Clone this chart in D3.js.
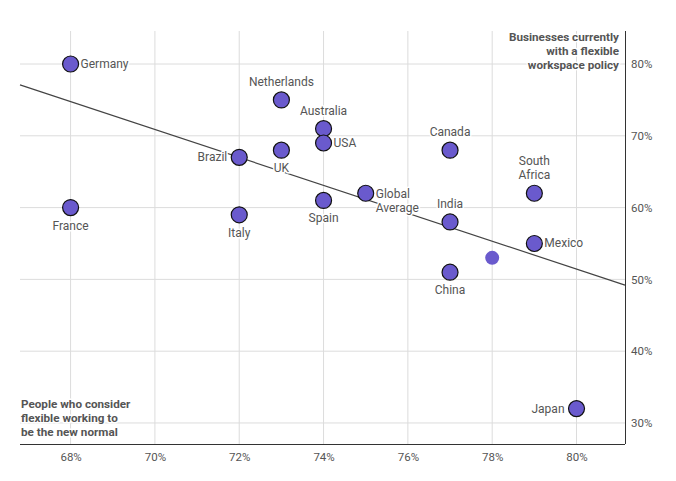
<!DOCTYPE html>
<html><head><meta charset="utf-8">
<script src="https://cdn.jsdelivr.net/npm/d3@7"></script>
<style>
html,body{margin:0;padding:0;background:#fff;}
svg text{font-family:Roboto,"Noto Sans",sans-serif;}
</style></head>
<body><svg id="c" width="676" height="481"></svg>
<script>
const countries = ["Germany","France","Netherlands","Australia","USA","Brazil","UK","Canada","Italy","Spain","Global Average","India","South Africa","Mexico","China","","Japan"];
const flexibleWorking = [68,68,73,74,74,72,73,77,72,74,75,77,79,79,77,78,80];
const flexiblePolicy = [80,60,75,71,69,67,68,68,59,61,62,58,62,55,51,53,32];
const labelSide = ["right","below","above","above","right","left","below","above","below","below","right","above","above","right","below","none","left"];
const xTicks = [68,70,72,74,76,78,80];
const yTicks = [30,40,50,60,70,80];
const trendX = [66.8, 81.15];
const trendY = [77.1, 49.2];
const xTitle = ["People who consider","flexible working to","be the new normal"];
const yTitle = ["Businesses currently","with a flexible","workspace policy"];

const svg = d3.select("#c");
const L=20, R=625, T=31, B=444;
const x = d3.scaleLinear().domain([66.8,81.15]).range([L,R]);
const y = d3.scaleLinear().domain([27.07,84.6]).range([B,T]);
const grid="#dcdcdc", txt="#555";

// grid
svg.append("g").selectAll("line").data(xTicks).join("line")
  .attr("x1",d=>x(d)).attr("x2",d=>x(d)).attr("y1",T).attr("y2",B).attr("stroke",grid);
svg.append("g").selectAll("line").data(yTicks).join("line")
  .attr("x1",L).attr("x2",R).attr("y1",d=>y(d)).attr("y2",d=>y(d)).attr("stroke",grid);

// axes
const xa = svg.append("g").attr("transform",`translate(0,${B})`)
  .call(d3.axisBottom(x).tickValues(xTicks).tickSize(0).tickPadding(9).tickFormat(d=>d+"%"));
xa.select(".domain").attr("d",`M${L},0.5H${R}`).attr("stroke","#333");
xa.selectAll("text").attr("fill",txt).attr("font-size",11.5).style("font-family","Roboto");
const ya = svg.append("g").attr("transform",`translate(${R},0)`)
  .call(d3.axisRight(y).tickValues(yTicks).tickSize(0).tickPadding(6).tickFormat(d=>d+"%"));
ya.select(".domain").attr("d",`M0.5,${T}V${B}`).attr("stroke","#333");
ya.selectAll("text").attr("fill",txt).attr("font-size",11.5).style("font-family","Roboto");

// trend line
svg.append("line").attr("x1",x(trendX[0])).attr("y1",y(trendY[0]))
  .attr("x2",x(trendX[1])).attr("y2",y(trendY[1])).attr("stroke","#444").attr("stroke-width",1.2);

// titles
const halo = sel => sel.attr("stroke","#fff").attr("stroke-width",3).attr("paint-order","stroke").attr("stroke-linejoin","round");
svg.append("text").attr("x",R-6).attr("y",41).attr("text-anchor","end")
  .attr("font-size",11.7).attr("font-weight","bold").attr("fill",txt).call(halo)
  .selectAll("tspan").data(yTitle).join("tspan").attr("x",R-6).attr("dy",(d,i)=>i?14:0).text(d=>d);
svg.append("text").attr("x",21).attr("y",408).attr("text-anchor","start")
  .attr("font-size",11.7).attr("font-weight","bold").attr("fill",txt).call(halo)
  .selectAll("tspan").data(xTitle).join("tspan").attr("x",21).attr("dy",(d,i)=>i?14:0).text(d=>d);

// points
const pts = countries.map((c,i)=>({c,x:flexibleWorking[i],y:flexiblePolicy[i],s:labelSide[i]}));
svg.append("g").selectAll("circle").data(pts).join("circle")
  .attr("cx",d=>x(d.x)).attr("cy",d=>y(d.y)).attr("r",d=>d.s==="none"?7:8)
  .attr("fill","#6a5acd").attr("stroke",d=>d.s==="none"?"none":"#111").attr("stroke-width",1.2);

// labels
const lg = svg.append("g");
pts.filter(d=>d.s!=="none").forEach(d=>{
  const cx=x(d.x), cy=y(d.y);
  const lines = d.c==="South Africa"?["South","Africa"]:d.c==="Global Average"?["Global","Average"]:[d.c];
  let tx=cx, ty=cy, anchor="middle";
  const lh=14;
  if(d.s==="right"){tx=cx+10;anchor="start";ty=cy+4-(lines.length-1)*lh/2 + (lines.length>1?lh/2+1:0);}
  if(d.s==="left"){tx=cx-12;anchor="end";ty=cy+4;}
  if(d.s==="above"){ty=cy-14-(lines.length-1)*lh;}
  if(d.s==="below"){ty=cy+22;}
  const t = lg.append("text").attr("x",tx).attr("y",ty).attr("text-anchor",anchor)
    .attr("font-size",12).attr("fill",txt).call(halo);
  t.selectAll("tspan").data(lines).join("tspan").attr("x",tx).attr("dy",(l,i)=>i?lh:0).text(l=>l);
});
</script></body></html>
